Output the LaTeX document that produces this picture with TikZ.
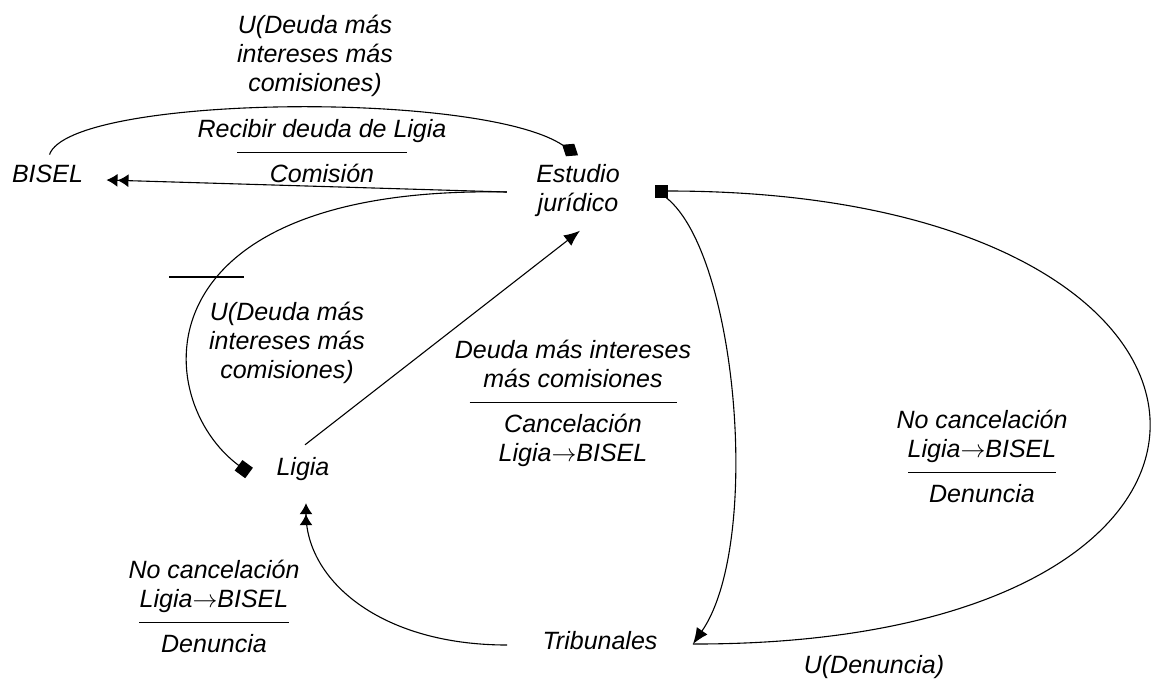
\documentclass[tikz,border=0pt]{standalone}
\usepackage{fontspec}
\setmainfont{Liberation Sans}
\usetikzlibrary{arrows.meta}

\newcommand{\etiq}[1]{\begin{tabular}[t]{@{}c@{}}#1\end{tabular}}
\newcommand{\etiqfrac}[3]{\begin{tabular}[t]{@{}c@{}}#1\\[-13pt]\rule{#2}{1.2pt}\\#3\end{tabular}}
\newcommand{\hacia}{\ensuremath{\rightarrow}}

\begin{document}
\begin{tikzpicture}[x=1pt, y=-1pt, line width=1.1pt,
	txt/.style={font=\fontsize{25}{29}\selectfont\itshape, inner sep=0pt},
	lbl/.style={txt, anchor=base},
	doble/.style={-{Latex[length=11pt,width=13pt] Latex[length=11pt,width=13pt]}},
	flecha/.style={-{Latex[length=16pt,width=13pt]}},
	cuadro/.style={-{Square[length=13pt,width=13pt]}}]
	\useasboundingbox (0,0) rectangle (1151,681);

	\node [txt] (bisel) at (47.5,174) {BISEL};
	\node [txt, align=center] (estudio) at (578,191) {Estudio\\jurídico};
	\node [txt] (ligia) at (303,469) {Ligia};
	\node [txt] (trib) at (600,641) {Tribunales};

	\coordinate (bisel-n) at ([xshift=2pt,yshift=10pt]bisel.north);
	\coordinate (bisel-e) at ([xshift=23pt,yshift=-6pt]bisel.east);
	\coordinate (estudio-n) at ([yshift=9pt]estudio.north);
	\coordinate (estudio-w) at ([xshift=-29pt,yshift=-1pt]estudio.west);
	\coordinate (estudio-e) at ([xshift=35pt]estudio.east);
	\coordinate (estudio-s) at ([xshift=2pt,yshift=-13pt]estudio.south);
	\coordinate (ligia-n) at ([xshift=2pt,yshift=12pt]ligia.north);
	\coordinate (ligia-w) at ([xshift=-27pt,yshift=-4pt]ligia.west);
	\coordinate (ligia-s) at ([xshift=3pt,yshift=-22pt]ligia.south);
	\coordinate (trib-w) at ([xshift=-35pt,yshift=-4pt]trib.west);
	\coordinate (trib-e) at ([xshift=35pt,yshift=-3pt]trib.east);

	\draw [-{Diamond[length=19pt,width=15pt]}] (bisel-n) .. controls (70,95) and (480,90) .. (estudio-n);
	\draw [doble] (estudio-w) -- (bisel-e);
	\draw [cuadro] (estudio-w) .. controls (135,185) and (150,400) .. (ligia-w);
	\draw [flecha] (ligia-n) -- (estudio-s);
	\draw [flecha] (estudio-e) .. controls (735,225) and (765,540) .. (trib-e);
	\draw [cuadro] (trib-e) .. controls (1320,645) and (1293,191) .. (estudio-e);
	\draw [doble] (trib-w) .. controls (380,645) and (306,580) .. (ligia-s);

	\node [lbl] (u-arriba) at (315,33) {\etiq{U(Deuda más\\intereses más\\comisiones)}};
	\node [lbl] (recibir) at (322,137) {\etiqfrac{Recibir deuda de Ligia}{170pt}{Comisión}};
	\draw (169,277) -- (244,277);
	\node [lbl] (u-izq) at (287,320) {\etiq{U(Deuda más\\intereses más\\comisiones)}};
	\node [lbl] (cancela) at (573,358) {\etiqfrac{Deuda más intereses\\más comisiones}{207pt}{Cancelación\\Ligia\hacia BISEL}};
	\node [lbl] (nocancela-der) at (982,428) {\etiqfrac{No cancelación\\Ligia\hacia BISEL}{148pt}{Denuncia}};
	\node [lbl] (nocancela-izq) at (214,578) {\etiqfrac{No cancelación\\Ligia\hacia BISEL}{150pt}{Denuncia}};
	\node [lbl] (u-denuncia) at (874,673) {U(Denuncia)};
\end{tikzpicture}
\end{document}
